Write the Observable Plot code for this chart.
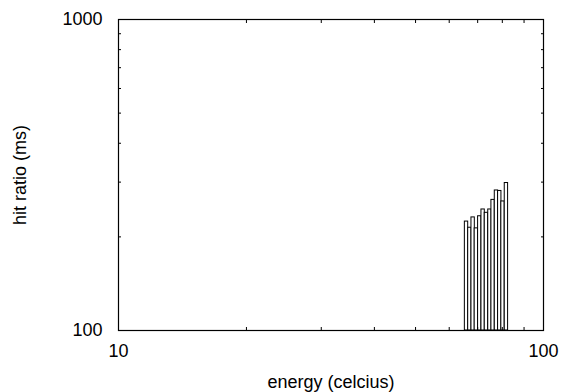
<!DOCTYPE html>
<html><head><meta charset="utf-8">
<script src="https://cdn.jsdelivr.net/npm/d3@7"></script>
<script src="https://cdn.jsdelivr.net/npm/@observablehq/plot@0.6"></script>
<style>body{margin:0;background:#fff}</style>
</head><body><div id="chart"></div>
<script>
const energy = [65.9, 67.1, 68.3, 69.5, 70.8, 72.1, 73.4, 74.8, 76.1, 77.5, 78.9, 80.3, 81.8];
const hitRatio = [224, 214, 231, 213, 233, 245, 239, 245, 263, 282, 281, 260, 298];
const xMajor = [10, 100];
const xMinor = [20, 30, 40, 50, 60, 70, 80, 90];
const yMajor = [100, 1000];
const yMinor = [200, 300, 400, 500, 600, 700, 800, 900];

const data = energy.map((e, i) => ({energy: e, hit: hitRatio[i]}));
const half = 1.0091;

const chart = Plot.plot({
  width: 562, height: 392,
  marginLeft: 118, marginRight: 19, marginTop: 19, marginBottom: 62,
  style: {fontFamily: "Arial, 'Liberation Sans', sans-serif", fontSize: "18px", color: "black", background: "white"},
  x: {type: "log", domain: [10, 100]},
  y: {type: "log", domain: [100, 1000]},
  marks: [
    Plot.rect(data, {x1: d => d.energy / half, x2: d => d.energy * half, y1: 100, y2: "hit", fill: "white", stroke: "black", strokeWidth: 1}),
    Plot.frame({stroke: "black", strokeWidth: 1.2}),
    Plot.axisX(xMajor, {anchor: "bottom", tickSize: 0, tickPadding: 14, tickFormat: d => String(d), fontSize: 18, label: "energy (celcius)", labelAnchor: "center", labelArrow: "none", labelOffset: 57}),
    Plot.axisX(xMinor, {anchor: "bottom", tickSize: -3, tickFormat: () => "", label: null}),
    Plot.axisX(xMinor, {anchor: "top", tickSize: -3, tickFormat: () => "", label: null}),
    Plot.axisY(yMajor, {anchor: "left", tickSize: 0, tickPadding: 16, tickFormat: d => String(d), fontSize: 18, label: "hit ratio (ms)", labelAnchor: "center", labelArrow: "none", labelOffset: 105}),
    Plot.axisY(yMinor, {anchor: "left", tickSize: -3, tickFormat: () => "", label: null}),
    Plot.axisY(yMinor, {anchor: "right", tickSize: -3, tickFormat: () => "", label: null})
  ]
});
document.getElementById("chart").appendChild(chart);
</script></body></html>
